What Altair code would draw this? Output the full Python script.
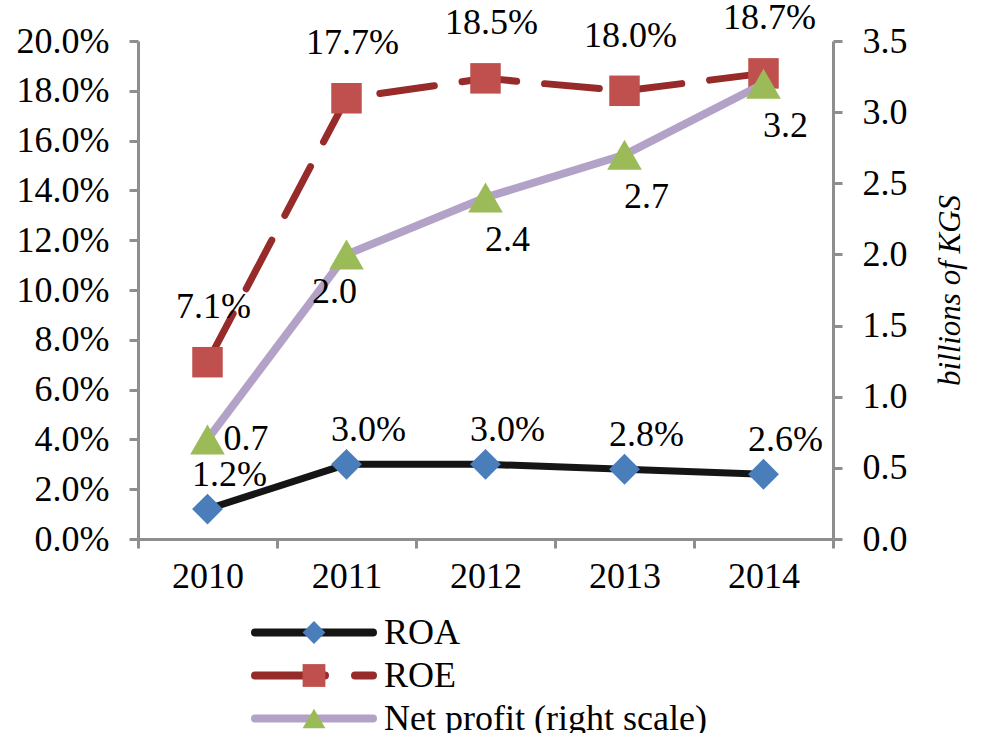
import altair as alt
import pandas as pd

# ---- data ----
years = ["2010", "2011", "2012", "2013", "2014"]
roa = [1.2, 3.0, 3.0, 2.8, 2.6]
roe = [7.1, 17.7, 18.5, 18.0, 18.7]
net_profit = [0.7, 2.0, 2.4, 2.7, 3.2]
series = ["ROA", "ROE", "Net profit (right scale)"]
left_ticks = [0, 2, 4, 6, 8, 10, 12, 14, 16, 18, 20]
right_ticks = [0.0, 0.5, 1.0, 1.5, 2.0, 2.5, 3.0, 3.5]

df = pd.DataFrame({"year": years, "roa": roa, "roe": roe, "np": net_profit})
df_leg = pd.DataFrame({"series": series})

FONT = "Liberation Serif"
GREY = "#8e8e8e"
FS = 36

ROA_LINE, ROA_MARK = "#151515", "#4A7EBB"
ROE_LINE, ROE_MARK = "#962B2A", "#C0504D"
NP_LINE, NP_MARK = "#B3A2C7", "#9BBB59"

axis_style = dict(
    labelFont=FONT,
    titleFont=FONT,
    labelFontSize=FS,
    labelColor="black",
    domainColor=GREY,
    domainWidth=3,
    tickColor=GREY,
    tickWidth=3,
    tickSize=9,
    grid=False,
)

x_enc = alt.X(
    "year:O",
    scale=alt.Scale(type="band", paddingInner=0, paddingOuter=0),
    bandPosition=0.5,
    axis=alt.Axis(title=None, labelAngle=0, tickBand="extent", labelPadding=11, **axis_style),
)

yl_scale = alt.Scale(domain=[0, 20], nice=False, zero=True)
yl_axis = alt.Axis(
    title=None,
    values=left_ticks,
    labelExpr="format(datum.value, '.1f') + '%'",
    labelPadding=20,
    orient="left",
    **axis_style,
)
yr_scale = alt.Scale(domain=[0, 3.5], nice=False, zero=True)
yr_axis = alt.Axis(
    title="billions of KGS",
    values=right_ticks,
    format=".1f",
    orient="right",
    labelPadding=20,
    titleFontStyle="italic",
    titleFontWeight="normal",
    titleFontSize=31,
    titleAngle=270,
    titleAlign="center",
    titleBaseline="middle",
    titleX=117,
    titleY=249,
    titleColor="black",
    **axis_style,
)

base = alt.Chart(df)


def yl(field):
    return alt.Y(field, scale=yl_scale, axis=yl_axis)


def yr(field):
    return alt.Y(field, scale=yr_scale, axis=yr_axis)


roa_line = base.mark_line(color=ROA_LINE, strokeWidth=7).encode(x=x_enc, y=yl("roa:Q"))
roa_pts = base.mark_point(shape="diamond", filled=True, opacity=1, size=950, color=ROA_MARK).encode(
    x=x_enc, y=yl("roa:Q")
)
roa_txt = base.transform_calculate(lab="format(datum.roa, '.1f') + '%'").mark_text(
    font=FONT, fontSize=FS, dx=22, dy=-34, color="black"
).encode(x=x_enc, y=yl("roa:Q"), text="lab:N")

roe_line = base.mark_line(
    color=ROE_LINE, strokeWidth=7, strokeDash=[55, 28], strokeCap="round"
).encode(x=x_enc, y=yl("roe:Q"))
roe_pts = base.mark_point(shape="square", filled=True, opacity=1, size=930, color=ROE_MARK).encode(
    x=x_enc, y=yl("roe:Q")
)
roe_txt = base.transform_calculate(lab="format(datum.roe, '.1f') + '%'").mark_text(
    font=FONT, fontSize=FS, dx=6, dy=-55, color="black"
).encode(x=x_enc, y=yl("roe:Q"), text="lab:N")

np_line = base.mark_line(color=NP_LINE, strokeWidth=8).encode(x=x_enc, y=yr("np:Q"))
np_pts = base.mark_point(shape="triangle-up", filled=True, opacity=1, size=1200, color=NP_MARK).encode(
    x=x_enc, y=yr("np:Q")
)
np_lab = base.transform_calculate(lab="format(datum.np, '.1f')")
# label placement as in the reference: first to the right, second below-left, rest below-right
np_txt_first = np_lab.transform_filter(alt.datum.year == years[0]).mark_text(
    font=FONT, fontSize=FS, align="left", dx=16, dy=0, color="black"
).encode(x=x_enc, y=yr("np:Q"), text="lab:N")
np_txt_second = np_lab.transform_filter(alt.datum.year == years[1]).mark_text(
    font=FONT, fontSize=FS, dx=-12, dy=38, color="black"
).encode(x=x_enc, y=yr("np:Q"), text="lab:N")
np_txt_rest = np_lab.transform_filter(
    (alt.datum.year != years[0]) & (alt.datum.year != years[1])
).mark_text(font=FONT, fontSize=FS, dx=22, dy=42, color="black").encode(
    x=x_enc, y=yr("np:Q"), text="lab:N"
)

left = alt.layer(roa_line, roa_pts, roa_txt, roe_line, roe_pts, roe_txt)
right = alt.layer(np_line, np_pts, np_txt_first, np_txt_second, np_txt_rest)
main = alt.layer(left, right).resolve_scale(y="independent").properties(width=695, height=498)

# ---- legend drawn as its own small chart ----
ly = alt.Y("series:N", sort=series, axis=None, scale=alt.Scale(type="point", padding=0.5))
lbase = alt.Chart(df_leg)
leg_line = lbase.mark_rule(strokeWidth=8, strokeCap="round").encode(
    x=alt.value(117),
    x2=alt.value(235),
    y=ly,
    stroke=alt.Stroke("series:N", scale=alt.Scale(domain=series, range=[ROA_LINE, ROE_LINE, NP_LINE]), legend=None),
    strokeDash=alt.StrokeDash(
        "series:N", scale=alt.Scale(domain=series, range=[[1, 0], [70, 30], [1, 0]]), legend=None
    ),
)
leg_pts = lbase.mark_point(filled=True, opacity=1, size=520).encode(
    x=alt.value(176),
    y=ly,
    fill=alt.Fill("series:N", scale=alt.Scale(domain=series, range=[ROA_MARK, ROE_MARK, NP_MARK]), legend=None),
    shape=alt.Shape("series:N", scale=alt.Scale(domain=series, range=["diamond", "square", "triangle-up"]), legend=None),
)
leg_txt = lbase.mark_text(font=FONT, fontSize=FS, align="left", color="black").encode(
    x=alt.value(246), y=ly, text="series:N"
)
legend = alt.layer(leg_line, leg_pts, leg_txt).properties(width=695, height=129)

chart = (
    alt.vconcat(main, legend, spacing=72, bounds="flush")
    .properties(padding={"left": 16, "top": 0, "right": 5, "bottom": 5}, background="white")
    .configure_view(stroke=None)
)

chart.save("out.html", embed_options={"renderer": "svg", "actions": False})
